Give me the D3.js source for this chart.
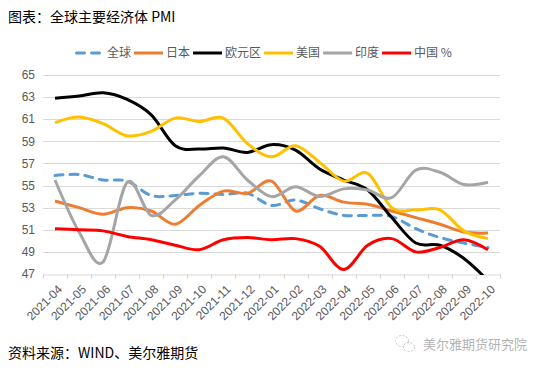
<!DOCTYPE html>
<html>
<head>
<meta charset="utf-8">
<script src="https://cdn.jsdelivr.net/npm/d3@7"></script>
<style>
  body { margin: 0; background: #fff; }
  svg text { font-family: "Liberation Sans", "Noto Sans CJK SC", sans-serif; }
  .cjk { font-family: "Noto Sans CJK SC", "Liberation Sans", sans-serif; }
  .grid line { stroke: #d9d9d9; stroke-width: 1; }
</style>
</head>
<body>
<svg id="chart" width="546" height="370"></svg>
<script>
// data
const months = ["2021-04","2021-05","2021-06","2021-07","2021-08","2021-09","2021-10","2021-11","2021-12",
                "2022-01","2022-02","2022-03","2022-04","2022-05","2022-06","2022-07","2022-08","2022-09","2022-10"];
const seriesNames = ["全球","日本","欧元区","美国","印度","中国 %"];
const globalPMI = [55.9,56.0,55.5,55.4,54.1,54.1,54.3,54.2,54.3,53.2,53.7,52.9,52.3,52.3,52.2,51.1,50.3,49.8,49.4];
const japanPMI  = [53.6,53.0,52.4,53.0,52.7,51.5,53.2,54.5,54.3,55.4,52.7,54.1,53.5,53.3,52.7,52.1,51.5,50.8,50.7];
const euroPMI   = [62.9,63.1,63.4,62.8,61.4,58.6,58.3,58.4,58.0,58.7,58.2,56.5,55.5,54.6,52.1,49.8,49.6,48.4,46.4];
const usPMI     = [60.7,61.2,60.6,59.5,59.9,61.1,60.8,61.1,58.8,57.6,58.6,57.1,55.4,56.1,53.0,52.8,52.8,50.9,50.2];
const indiaPMI  = [55.5,50.8,48.1,55.3,52.3,53.7,55.9,57.6,55.5,54.0,54.9,54.0,54.7,54.6,53.9,56.4,56.2,55.1,55.3];
const chinaPMI  = [51.1,51.0,50.9,50.4,50.1,49.6,49.2,50.1,50.3,50.1,50.2,49.5,47.4,49.6,50.2,49.0,49.4,50.1,49.2];
const yTicks = [47,49,51,53,55,57,59,61,63,65];

const allSeries = [globalPMI, japanPMI, euroPMI, usPMI, indiaPMI, chinaPMI];
const colors = ["#5b9bd5","#ed7d31","#000000","#ffc000","#a5a5a5","#ff0000"];

const svg = d3.select("#chart");
const plotLeft = 43, plotRight = 500, plotTop = 75, plotBottom = 274;

const x = d3.scaleBand().domain(months).range([plotLeft, plotRight]);
const y = d3.scaleLinear().domain([47, 65]).range([plotBottom, plotTop]);

// title
svg.append("text").attr("class","cjk")
   .attr("x", 8).attr("y", 22)
   .attr("font-size", 14).attr("fill", "#000")
   .text("图表：全球主要经济体 PMI");

// gridlines
svg.append("g").attr("class","grid")
   .selectAll("line")
   .data(yTicks.filter(d => d !== 47))
   .join("line")
   .attr("x1", plotLeft).attr("x2", plotRight)
   .attr("y1", d => Math.round(y(d)) + 0.5).attr("y2", d => Math.round(y(d)) + 0.5);

// y labels
svg.append("g").selectAll("text")
   .data(yTicks)
   .join("text")
   .attr("x", 35).attr("y", d => y(d))
   .attr("dy", "0.35em")
   .attr("text-anchor", "end")
   .attr("font-size", 12).attr("fill", "#595959")
   .text(d => d);

// x axis
const xAxis = d3.axisBottom(x).tickSize(0).tickFormat("");
const xg = svg.append("g").attr("transform", `translate(0,${plotBottom + 0.5})`).call(xAxis);
xg.select(".domain").attr("stroke", "#d9d9d9");
// boundary ticks
const bounds = months.map(m => x(m)).concat([plotRight]);
svg.append("g").selectAll("line")
   .data(bounds)
   .join("line")
   .attr("x1", d => Math.round(d) + 0.5).attr("x2", d => Math.round(d) + 0.5)
   .attr("y1", plotBottom).attr("y2", plotBottom + 5)
   .attr("stroke", "#d9d9d9");

svg.append("g").selectAll("text")
   .data(months)
   .join("text")
   .attr("transform", d => `translate(${x(d) + x.bandwidth()/2 + 5},${plotBottom + 13}) rotate(-45)`)
   .attr("text-anchor", "end")
   .attr("dy", "0.35em")
   .attr("font-size", 12).attr("fill", "#595959")
   .text(d => d);

// clip
svg.append("clipPath").attr("id","plotclip")
   .append("rect").attr("x", plotLeft).attr("y", plotTop - 10)
   .attr("width", plotRight - plotLeft).attr("height", plotBottom - plotTop + 11);

const line = d3.line()
    .x((d, i) => x(months[i]) + x.bandwidth()/2)
    .y(d => y(d))
    .curve(d3.curveCardinal.tension(0));

const plot = svg.append("g").attr("clip-path", "url(#plotclip)");
allSeries.forEach((s, k) => {
  plot.append("path")
      .datum(s)
      .attr("d", line)
      .attr("fill", "none")
      .attr("stroke", colors[k])
      .attr("stroke-width", 3)
      .attr("stroke-linecap", k === 0 ? "round" : "butt")
      .attr("stroke-linejoin", "round")
      .attr("stroke-dasharray", k === 0 ? "8,7" : null);
});

// legend
const legend = svg.append("g").attr("transform", "translate(75,53)");
let lx = 0;
seriesNames.forEach((name, k) => {
  legend.append("line")
        .attr("x1", lx + (k === 0 ? 1.5 : 0)).attr("x2", lx + 29)
        .attr("y1", 0).attr("y2", 0)
        .attr("stroke", colors[k]).attr("stroke-width", 3)
        .attr("stroke-linecap", k === 0 ? "round" : "butt")
        .attr("stroke-dasharray", k === 0 ? "8,7" : null);
  const t = legend.append("text").attr("class","cjk")
        .attr("x", lx + 32).attr("y", 0).attr("dy", "0.35em")
        .attr("font-size", 12).attr("fill", "#595959")
        .text(name);
  lx += 32 + t.node().getComputedTextLength() + 3;
});

// source
svg.append("text").attr("class","cjk")
   .attr("x", 8).attr("y", 358)
   .attr("font-size", 14).attr("fill", "#000")
   .text("资料来源：WIND、美尔雅期货");

// watermark
const wm = svg.append("g").attr("opacity", 0.55);
wm.append("ellipse").attr("cx", 402).attr("cy", 341).attr("rx", 6.5).attr("ry", 5.5)
  .attr("fill", "none").attr("stroke", "#999").attr("stroke-width", 1).attr("stroke-dasharray", "2,1.5");
wm.append("ellipse").attr("cx", 409).attr("cy", 347).attr("rx", 5.5).attr("ry", 4.5)
  .attr("fill", "#fff").attr("stroke", "#999").attr("stroke-width", 1).attr("stroke-dasharray", "2,1.5");
wm.append("text").attr("class","cjk")
  .attr("x", 423).attr("y", 349)
  .attr("font-size", 13).attr("fill", "#777")
  .text("美尔雅期货研究院");
</script>
</body>
</html>
